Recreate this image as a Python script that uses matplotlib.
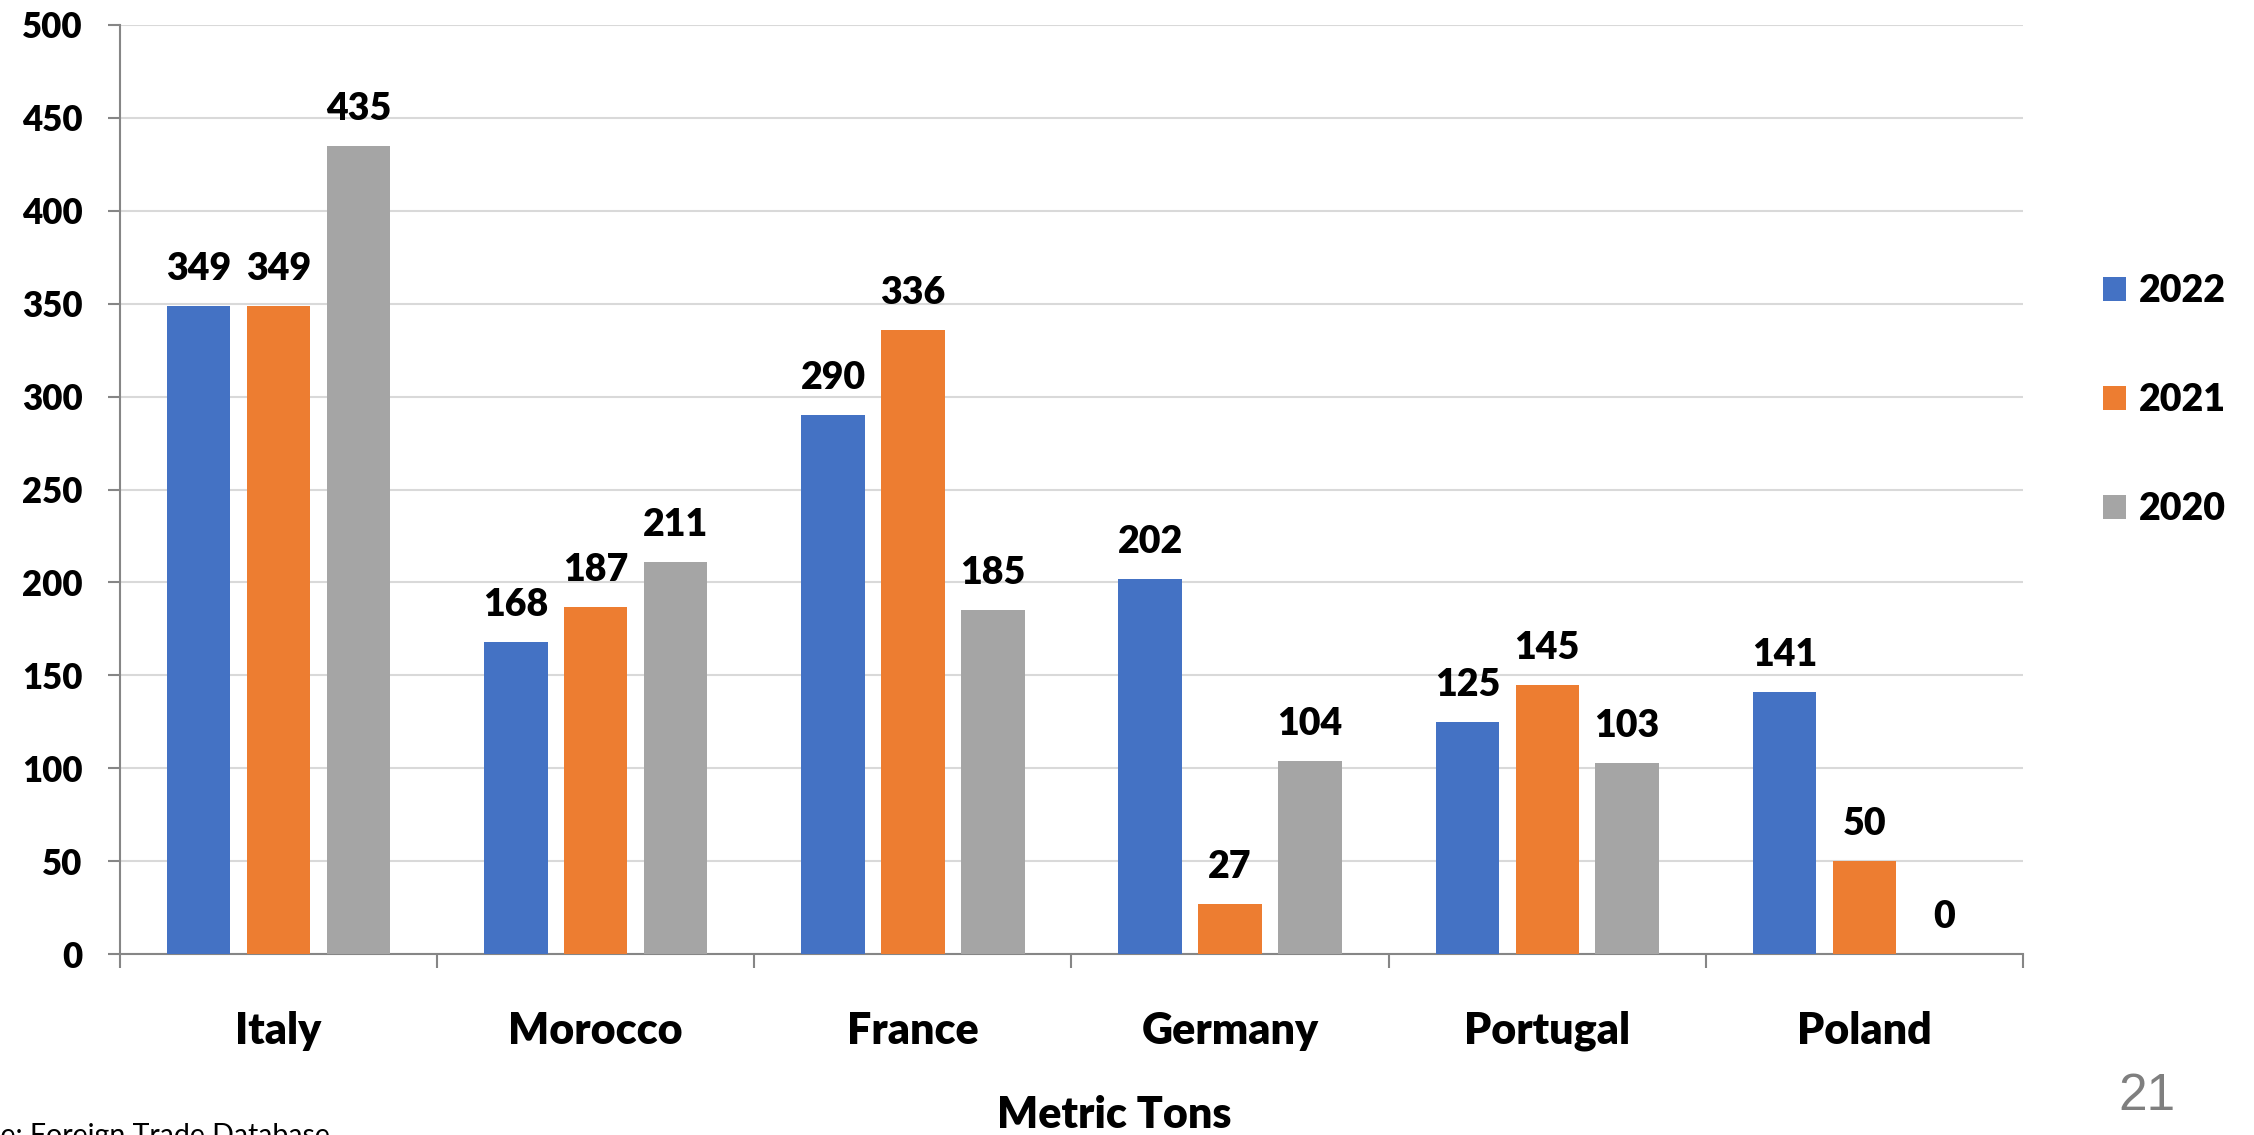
import numpy as np
import matplotlib.pyplot as plt
from matplotlib import transforms

countries = ['Italy', 'Morocco', 'France', 'Germany', 'Portugal', 'Poland']
years = ['2022', '2021', '2020']
v2022 = [349, 168, 290, 202, 125, 141]
v2021 = [349, 187, 336, 27, 145, 50]
v2020 = [435, 211, 185, 104, 103, 0]
colors = ['#4472C4', '#ED7D31', '#A5A5A5']

plt.rcParams['font.family'] = ['Lato', 'DejaVu Sans']
BW = 'heavy'

W, H = 2254, 1135
fig = plt.figure(figsize=(W / 100, H / 100), dpi=100)
ax = fig.add_axes([120 / W, 1 - 954 / H, (2023 - 120) / W, (954 - 25) / H])

x = np.arange(len(countries))
bw = 0.2
offs = [-0.252, 0, 0.252]
bars = []
for vals, off, c, yr in zip([v2022, v2021, v2020], offs, colors, years):
    b = ax.bar(x + off, vals, bw, color=c, label=yr, zorder=3)
    bars.append(b)
    for xi, v in zip(x + off, vals):
        ax.annotate(str(v), (xi, v), xytext=(0, 37), textcoords='offset pixels',
                    ha='center', va='center', fontsize=27, fontweight=BW)

ax.set_xlim(-0.5, len(countries) - 0.5)
ax.set_ylim(0, 500)
ax.set_yticks(np.arange(0, 501, 50))
ax.yaxis.grid(True, color='#d9d9d9', linewidth=1.5, zorder=0)
ax.tick_params(axis='y', length=9, width=1.5, color='#868686', pad=18,
               labelsize=25)
for lab in ax.get_yticklabels():
    lab.set_fontweight(BW)

ax.set_xticks(np.arange(-0.5, len(countries), 1))
ax.set_xticklabels([])
ax.tick_params(axis='x', length=10, width=1.5, color='#868686')

for s in ['top', 'right']:
    ax.spines[s].set_visible(False)
for s in ['left', 'bottom']:
    ax.spines[s].set_color('#868686')
    ax.spines[s].set_linewidth(1.5)

trans = transforms.blended_transform_factory(ax.transData, fig.transFigure)
for xi, name in zip(x, countries):
    ax.text(xi, 1 - 1031 / H, name, transform=trans, ha='center', va='center',
            fontsize=31, fontweight=BW)

fig.text(1114 / W, 1 - 1115 / H, 'Metric Tons', ha='center', va='center',
         fontsize=31, fontweight=BW)
fig.text(330 / W, 1 - 1136 / H, 'Source: Foreign Trade Database', ha='right',
         va='center', fontsize=20.5)
fig.text(2147 / W, 1 - 1097 / H, '21', ha='center', va='center', fontsize=37,
         color='#7f7f7f', family='Liberation Sans')

leg = fig.legend(handles=bars, labels=years, loc='upper left',
                 bbox_to_anchor=(2103 / W, 1 - 274 / H), frameon=False,
                 prop={'size': 27, 'weight': BW}, handlelength=0.6,
                 handleheight=0.6, handletextpad=0.35, labelspacing=2.0,
                 borderaxespad=0, borderpad=0)

fig.savefig('out.png', dpi=100)
